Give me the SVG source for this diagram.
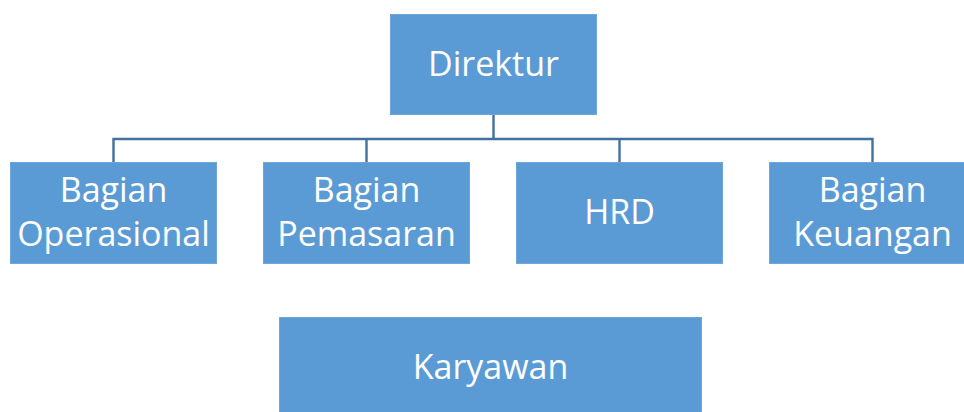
<svg xmlns="http://www.w3.org/2000/svg" width="964" height="412" viewBox="0 0 964 412">
<style>
.box{fill:#5B9BD5;stroke:#6FA6DA;stroke-width:1}
.lbl{font-family:"Open Sans","Noto Sans","DejaVu Sans",sans-serif;font-size:34px;fill:#FFFFFF;text-anchor:middle}
.conn{fill:none;stroke:#41719C;stroke-width:2.4}
</style>
<rect width="964" height="412" fill="#FFFFFF"/>
<g id="connectors">
<path class="conn" d="M493.5 115 V139"/>
<path class="conn" d="M113.5 162 V139 H872.5 V162"/>
<path class="conn" d="M366.5 139 V162"/>
<path class="conn" d="M619.5 139 V162"/>
</g>
<g id="direktur">
<rect class="box" x="390.5" y="14.5" width="206" height="100"/>
<text class="lbl" x="493.5" y="76">Direktur</text>
</g>
<g id="operasional">
<rect class="box" x="10.5" y="162.5" width="206" height="101"/>
<text class="lbl" x="113.5" y="201.5">Bagian</text>
<text class="lbl" x="113.5" y="246">Operasional</text>
</g>
<g id="pemasaran">
<rect class="box" x="263.5" y="162.5" width="206" height="101"/>
<text class="lbl" x="366.5" y="201.5">Bagian</text>
<text class="lbl" x="366.5" y="246">Pemasaran</text>
</g>
<g id="hrd">
<rect class="box" x="516.5" y="162.5" width="206" height="101"/>
<text class="lbl" x="619.5" y="224">HRD</text>
</g>
<g id="keuangan">
<rect class="box" x="769.5" y="162.5" width="206" height="101"/>
<text class="lbl" x="872.5" y="201.5">Bagian</text>
<text class="lbl" x="872.5" y="246">Keuangan</text>
</g>
<g id="karyawan">
<rect class="box" x="279.5" y="317.5" width="422" height="100"/>
<text class="lbl" x="490.5" y="379">Karyawan</text>
</g>
</svg>
